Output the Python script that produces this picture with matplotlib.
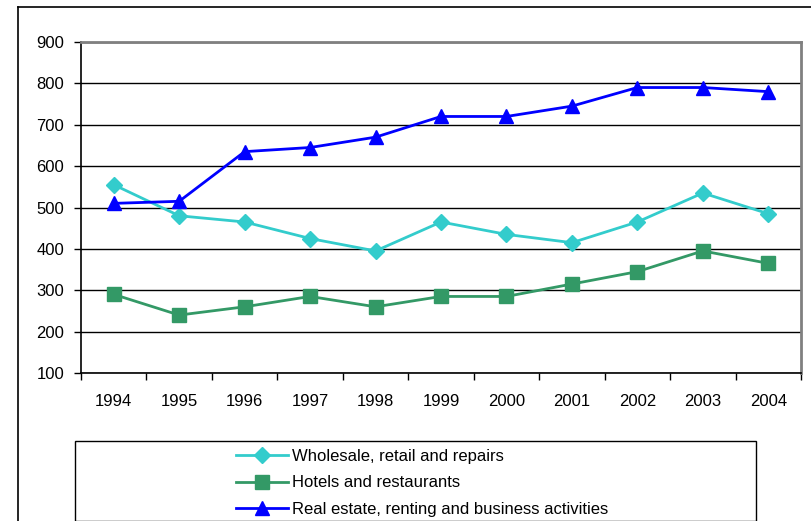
import matplotlib.pyplot as plt
from matplotlib.patches import Rectangle
from matplotlib.lines import Line2D

years = ['1994', '1995', '1996', '1997', '1998', '1999', '2000', '2001', '2002', '2003', '2004']
wholesale = [555, 480, 465, 425, 395, 465, 435, 415, 465, 535, 485]
hotels = [290, 240, 260, 285, 260, 285, 285, 315, 345, 395, 365]
real_estate = [510, 515, 635, 645, 670, 720, 720, 745, 790, 790, 780]

plt.rcParams['font.family'] = ['Liberation Sans Narrow', 'Liberation Sans', 'DejaVu Sans']

W, H = 812, 521
fig = plt.figure(figsize=(W / 100, H / 100), dpi=100)

# outer frame (only top and left edges fall inside the image)
fig.add_artist(Line2D([18 / W, 18 / W], [0, 1 - 7 / H], color='black', lw=1.2))
fig.add_artist(Line2D([18 / W, 1], [1 - 7 / H, 1 - 7 / H], color='black', lw=1.2))

ax = fig.add_axes([81 / W, 1 - 373 / H, 720 / W, 331 / H])
x = list(range(len(years)))
ax.plot(x, wholesale, color='#33CCCC', lw=2, marker='D', markersize=8.5,
        label='Wholesale, retail and repairs')
ax.plot(x, hotels, color='#339966', lw=2, marker='s', markersize=10,
        label='Hotels and restaurants')
ax.plot(x, real_estate, color='#0000FF', lw=2, marker='^', markersize=10,
        label='Real estate, renting and business activities')

ax.set_xlim(-0.5, len(years) - 0.5)
ax.set_ylim(100, 900)
ax.set_yticks(range(100, 1000, 100))
ax.set_xticks([i - 0.5 for i in range(len(years) + 1)], minor=False)
ax.set_xticklabels([])
ax.set_xticks(x, minor=True)
ax.set_xticklabels(years, minor=True)
ax.tick_params(axis='x', which='minor', length=0, pad=15, labelsize=12)
ax.tick_params(axis='x', which='major', length=5, direction='out', width=1)
ax.tick_params(axis='y', length=5, direction='out', width=1, labelsize=12, pad=7)
ax.yaxis.grid(True, color='black', lw=1)
ax.set_axisbelow(True)
for s in ['top', 'right']:
    ax.spines[s].set_color('#808080')
    ax.spines[s].set_linewidth(2)
for s in ['left', 'bottom']:
    ax.spines[s].set_color('black')
    ax.spines[s].set_linewidth(1.2)

# legend box
fig.add_artist(Rectangle((75 / W, 0), (756 - 75) / W, 1 - 441 / H, transform=fig.transFigure,
                         fill=False, edgecolor='black', lw=1))
fig.legend(loc='upper left', bbox_to_anchor=(236 / W, 1 - 449 / H), frameon=False,
           fontsize=12, handlelength=3.1, handletextpad=0.25, labelspacing=0.68,
           borderaxespad=0, borderpad=0)

fig.savefig('out.png', dpi=100)
